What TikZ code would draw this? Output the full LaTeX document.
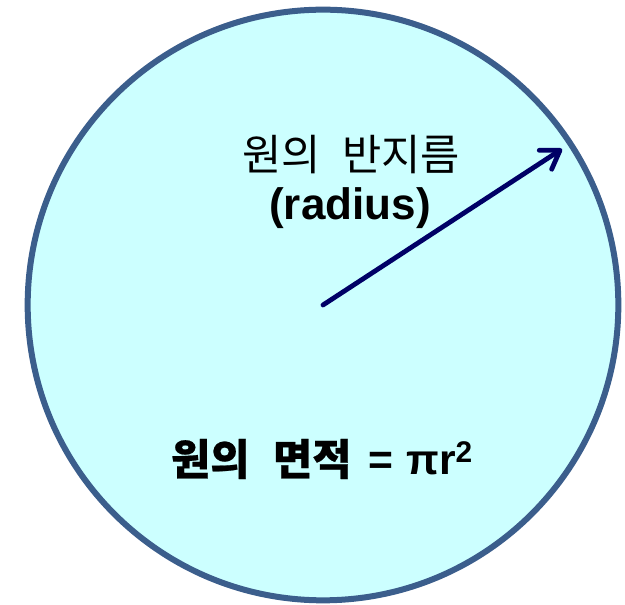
\documentclass[tikz,border=0pt]{standalone}
\usepackage{fontspec}
\setmainfont{Liberation Sans}
\newfontfamily\kr{Noto Sans CJK KR}
\newfontfamily\krb[FakeBold=0.5]{Noto Sans CJK KR}
\usetikzlibrary{arrows.meta}
\definecolor{discfill}{HTML}{CCFFFF}
\definecolor{discrim}{HTML}{3B5E8C}
\definecolor{radcol}{HTML}{000066}
\begin{document}
\begin{tikzpicture}[x=0.75pt,y=-0.75pt,every node/.style={inner sep=0,text=black},
        disc/.style={circle,draw=discrim,fill=discfill,line width=4.5pt,minimum size=443pt},
        radarrow/.style={draw=radcol,line width=3.6pt,line cap=round,
            -{Straight Barb[length=13pt,width=17pt,line cap=round,line join=round]}},
        lbl/.style={font=\fontsize{32}{36}\selectfont}]
    \useasboundingbox (0,0) rectangle (625,605);
    \node[disc] (circ) at (323,305) {};
    \coordinate (tip) at (562,149);
    \draw[radarrow] (circ.center) -- (tip);
    \node[lbl] (name) at (351,155) {\kr 원의\hspace{0.5em}반지름};
    \node[lbl,font=\fontsize{33}{36}\selectfont\bfseries] (eng) at (350,208) {(radius)};
    \node[lbl,font=\fontsize{32}{36}\selectfont\bfseries] (area) at (322,459)
        {{\krb 원의\hspace{0.55em}면적}\hspace{0.4em}=\hspace{0.3em}πr\textsuperscript{2}};
\end{tikzpicture}
\end{document}
